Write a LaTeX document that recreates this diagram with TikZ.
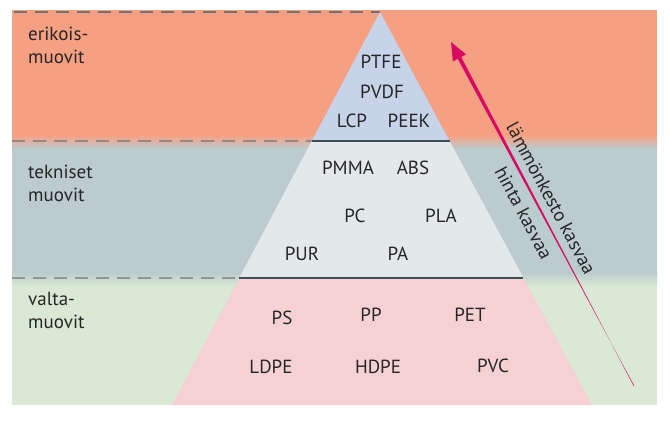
\documentclass[tikz,border=0pt]{standalone}
\usepackage{fontspec}
\setmainfont{PT Sans}
\usetikzlibrary{calc}

\begin{document}
\begin{tikzpicture}[x=1pt,y=-1pt,
    lbl/.style={inner sep=0pt, font=\fontsize{19}{23}\selectfont, text=black!85},
    grp/.style={lbl, align=left, anchor=base west},
    dashsep/.style={line width=1.3pt, color=black!55, dash pattern=on 13pt off 8pt},
    solidsep/.style={line width=1.5pt, color=sepc}]
    \definecolor{spec}{RGB}{246,160,131}
    \definecolor{tech}{RGB}{187,203,206}
    \definecolor{comm}{RGB}{217,233,213}
    \definecolor{specin}{RGB}{198,211,232}
    \definecolor{techin}{RGB}{227,233,235}
    \definecolor{commin}{RGB}{246,209,211}
    \definecolor{arrowc}{RGB}{214,10,98}
    \definecolor{sepc}{RGB}{62,78,86}

    \useasboundingbox (0,0) rectangle (670,421);

    % bands
    \fill[spec] (12,10) rectangle (657,135);
    \shade[top color=spec, bottom color=tech] (12,135) rectangle (657,149);
    \fill[tech] (12,149) rectangle (657,272);
    \shade[top color=tech, bottom color=comm] (12,272) rectangle (657,286);
    \fill[comm] (12,286) rectangle (657,405);

    % pyramid
    \coordinate (apex) at (380,12);
    \coordinate (bl) at (172,405);
    \coordinate (br) at (592,405);
    \coordinate (l1) at ($(apex)!0.3282!(bl)$);
    \coordinate (r1) at ($(apex)!0.3282!(br)$);
    \coordinate (l2) at ($(apex)!0.6768!(bl)$);
    \coordinate (r2) at ($(apex)!0.6768!(br)$);

    \fill[specin] (apex) -- (l1) -- (r1) -- cycle;
    \fill[techin] (l1) -- (l2) -- (r2) -- (r1) -- cycle;
    \fill[commin] (l2) -- (bl) -- (br) -- (r2) -- cycle;

    \draw[dashsep] (14,12) -- (apex);
    \draw[dashsep] (12,141) -- (l1);
    \draw[dashsep] (12,278) -- (l2);
    \draw[solidsep] (l1) -- (r1);
    \draw[solidsep] (l2) -- (r2);

    \node[grp] (erik) at (28,63) {erikois-\\muovit};
    \node[grp] (tekn) at (28,201) {tekniset\\muovit};
    \node[grp] (valt) at (28,328) {valta-\\muovit};

    \node[lbl] (ptfe) at (381,62) {PTFE};
    \node[lbl] (pvdf) at (382,92) {PVDF};
    \node[lbl] (lcp)  at (352,121) {LCP};
    \node[lbl] (peek) at (409,121) {PEEK};

    \node[lbl] (pmma) at (348,168) {PMMA};
    \node[lbl] (abs)  at (413,168) {ABS};
    \node[lbl] (pc)   at (355,216) {PC};
    \node[lbl] (pla)  at (441,216) {PLA};
    \node[lbl] (pur)  at (302,254) {PUR};
    \node[lbl] (pa)   at (398,254) {PA};

    \node[lbl] (ps)   at (282,318) {PS};
    \node[lbl] (pp)   at (371,315) {PP};
    \node[lbl] (pet)  at (470,315) {PET};
    \node[lbl] (ldpe) at (271,367) {LDPE};
    \node[lbl] (hdpe) at (378,367) {HDPE};
    \node[lbl] (pvc)  at (493,366) {PVC};

    % tapered arrow
    \coordinate (tail) at (634,386);
    \coordinate (tip) at (451,42);
    \coordinate (hb) at ($(tip)!18pt!(tail)$);
    \fill[arrowc] ($(tail)!0.3pt!90:(tip)$) -- ($(hb)!2pt!-90:(tip)$)
      -- ($(hb)!7.5pt!-90:(tip)$) -- (tip) -- ($(hb)!7.5pt!90:(tip)$)
      -- ($(hb)!2pt!90:(tip)$) -- ($(tail)!0.3pt!-90:(tip)$) -- cycle;

    \coordinate (mid) at ($(tip)!0.475!(tail)$);
    \node[lbl, rotate=-62] (heat) at ($(mid)!15pt!90:(tail)$) {lämmönkesto kasvaa};
    \node[lbl, rotate=-62] (cost) at ($(mid)!16pt!-90:(tail)$) {hinta kasvaa};
\end{tikzpicture}
\end{document}
